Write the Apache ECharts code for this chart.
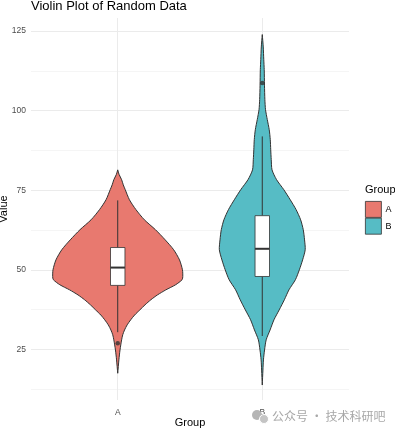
<!DOCTYPE html>
<html>
<head>
<meta charset="utf-8">
<script src="https://cdn.jsdelivr.net/npm/echarts@6/dist/echarts.min.js"></script>
<style>html,body{margin:0;padding:0;background:#fff}#c{width:395px;height:433px}</style>
</head>
<body>
<div id="c"></div>
<script>
// ---- data ----
const categories = ['A', 'B'];
const yTickLabels = [25, 50, 75, 100, 125];
const yMinorTicks = [12.5, 37.5, 62.5, 87.5, 112.5];

// violin outlines: value and relative density (1 = widest violin)
const violinAValues  = [81.4, 80.0, 78.3, 76.7, 75.2, 72.0, 68.9, 65.7, 62.6, 59.4, 56.3, 53.1, 50.0, 47.9, 46.9, 45.3, 43.7, 42.1, 40.6, 39.0, 37.4, 35.8, 34.3, 32.7, 31.1, 29.6, 28.0, 24.8, 21.7, 17.5];
const violinADensity = [0, 0.02, 0.06, 0.085, 0.115, 0.18, 0.28, 0.41, 0.58, 0.73, 0.86, 0.95, 0.995, 1.0, 0.99, 0.89, 0.74, 0.61, 0.51, 0.42, 0.34, 0.26, 0.2, 0.145, 0.105, 0.077, 0.06, 0.035, 0.018, 0];

const violinBValues  = [123.9, 120, 116, 112.9, 108, 103.5, 100.3, 97.2, 94.0, 90.9, 87.7, 84.6, 81.4, 78.3, 75.2, 72.0, 68.9, 65.7, 62.6, 59.4, 56.3, 53.1, 50.0, 46.9, 43.7, 40.6, 37.4, 34.3, 31.1, 28.0, 24.8, 21.7, 18.5, 13.8];
const violinBDensity = [0, 0.015, 0.023, 0.03, 0.034, 0.04, 0.05, 0.077, 0.107, 0.123, 0.13, 0.138, 0.15, 0.22, 0.33, 0.43, 0.52, 0.59, 0.63, 0.65, 0.66, 0.62, 0.57, 0.51, 0.41, 0.34, 0.26, 0.18, 0.12, 0.06, 0.035, 0.018, 0.01, 0];

// box stats: [lower whisker, Q1, median, Q3, upper whisker]
const boxA = [30.4, 45.1, 50.7, 57.0, 71.8];
const boxB = [29.2, 47.9, 56.6, 67.0, 91.9];
const outliersA = [26.9];
const outliersB = [108.7];

// ---- chart ----
const FONT = 'Liberation Sans, Arial, sans-serif';
const VIOLIN_HALF = 0.45;
const BOX_HALF = 0.05;
const colors = ['#E8796F', '#56BCC5'];
const violins = [
  {values: violinAValues, dens: violinADensity},
  {values: violinBValues, dens: violinBDensity}
];
const boxes = [boxA, boxB];

function violinSeries(i) {
  return {
    type: 'custom',
    name: categories[i],
    coordinateSystem: 'cartesian2d',
    xAxisIndex: 0, yAxisIndex: 0,
    itemStyle: {color: colors[i], borderColor: '#333', borderWidth: 0.8},
    data: [[i + 1, boxes[i][2]]],
    z: 2,
    renderItem: function (params, api) {
      const pos = i + 1;
      const v = violins[i];
      const right = [], left = [];
      for (let k = 0; k < v.values.length; k++) {
        right.push(api.coord([pos + v.dens[k] * VIOLIN_HALF, v.values[k]]));
        left.push(api.coord([pos - v.dens[k] * VIOLIN_HALF, v.values[k]]));
      }
      const pts = right.concat(left.reverse());
      return {
        type: 'polygon',
        shape: {points: pts, smooth: 0.25},
        style: {fill: colors[i], stroke: '#333', lineWidth: 1}
      };
    }
  };
}

function boxSeries(i) {
  return {
    type: 'custom',
    name: 'box' + categories[i],
    coordinateSystem: 'cartesian2d',
    data: [[i + 1, boxes[i][2]]],
    z: 3,
    silent: true,
    renderItem: function (params, api) {
      const pos = i + 1;
      const b = boxes[i];
      const tl = api.coord([pos - BOX_HALF, b[3]]);
      const br = api.coord([pos + BOX_HALF, b[1]]);
      const ml = api.coord([pos - BOX_HALF, b[2]]);
      const mr = api.coord([pos + BOX_HALF, b[2]]);
      const wTop = api.coord([pos, b[4]]);
      const q3 = api.coord([pos, b[3]]);
      const q1 = api.coord([pos, b[1]]);
      const wBot = api.coord([pos, b[0]]);
      return {
        type: 'group',
        children: [
          {type: 'line', shape: {x1: wTop[0], y1: wTop[1], x2: q3[0], y2: q3[1]}, style: {stroke: '#333', lineWidth: 1}},
          {type: 'line', shape: {x1: q1[0], y1: q1[1], x2: wBot[0], y2: wBot[1]}, style: {stroke: '#333', lineWidth: 1}},
          {type: 'rect', shape: {x: tl[0], y: tl[1], width: br[0] - tl[0], height: br[1] - tl[1]}, style: {fill: '#fff', stroke: '#333', lineWidth: 0.8}},
          {type: 'line', shape: {x1: ml[0], y1: ml[1], x2: mr[0], y2: mr[1]}, style: {stroke: '#333', lineWidth: 2}}
        ]
      };
    }
  };
}

const option = {
  animation: false,
  backgroundColor: '#fff',
  textStyle: {fontFamily: FONT},
  title: [
    {text: 'Violin Plot of Random Data', left: 31, top: 0, padding: 0,
     textStyle: {fontSize: 13, fontWeight: 'normal', color: '#000', fontFamily: FONT}},
    {text: 'Group', left: 365, top: 184, padding: 0,
     textStyle: {fontSize: 11, fontWeight: 'normal', color: '#000', fontFamily: FONT}}
  ],
  legend: {
    data: categories,
    orient: 'vertical',
    left: 365, top: 201,
    itemWidth: 16, itemHeight: 16, itemGap: 0,
    padding: 0,
    icon: 'rect',
    itemStyle: {borderColor: '#333', borderWidth: 0.8},
    textStyle: {fontSize: 9, color: '#000', fontFamily: FONT, padding: [0, 0, 0, -1]}
  },
  grid: {left: 31, right: 46, top: 18, bottom: 33, containLabel: false, outerBoundsMode: 'none'},
  xAxis: {
    type: 'value', min: 0.4, max: 2.6,
    name: 'Group', nameLocation: 'middle', nameGap: 17, nameMoveOverlap: false,
    nameTextStyle: {fontSize: 11, color: '#000', fontFamily: FONT},
    axisLine: {show: false},
    axisTick: {show: false, customValues: [1, 2]},
    axisLabel: {customValues: [1, 2], fontSize: 8.5, color: '#4D4D4D', margin: 8,
      formatter: function (v) { return categories[Math.round(v) - 1]; }},
    splitLine: {show: true, lineStyle: {color: '#EBEBEB', width: 1}}
  },
  yAxis: [
    {
      type: 'value', min: 9.1, max: 129.1,
      name: 'Value', nameLocation: 'middle', nameGap: 22, nameRotate: 90, nameMoveOverlap: false,
      nameTextStyle: {fontSize: 11, color: '#000', fontFamily: FONT},
      axisLine: {show: false},
      axisTick: {show: false, customValues: yTickLabels},
      axisLabel: {customValues: yTickLabels, fontSize: 8.5, color: '#4D4D4D', margin: 5},
      splitLine: {show: true, lineStyle: {color: '#EBEBEB', width: 1}}
    },
    {
      type: 'value', min: 9.1, max: 129.1, position: 'left',
      axisLine: {show: false},
      axisTick: {show: false, customValues: yMinorTicks},
      axisLabel: {show: false, customValues: yMinorTicks},
      splitLine: {show: true, lineStyle: {color: '#F2F2F2', width: 0.8}}
    }
  ],
  series: [
    violinSeries(0), violinSeries(1),
    boxSeries(0), boxSeries(1),
    {
      type: 'scatter', name: 'outliers', z: 4, silent: true,
      symbolSize: 4.5, itemStyle: {color: '#333'},
      data: outliersA.map(v => [1, v]).concat(outliersB.map(v => [2, v]))
    }
  ],
  graphic: [
    {type: 'circle', left: 252, top: 410, shape: {r: 5}, style: {fill: '#b5b5b5'}, z: 100},
    {type: 'circle', left: 259, top: 414, shape: {r: 4.5}, style: {fill: '#c4c4c4', stroke: '#fff', lineWidth: 1}, z: 101},
    {type: 'text', left: 272, top: 410, z: 100,
     style: {text: '公众号 · 技术科研吧', fill: '#a8a8a8', font: '12px "Noto Sans CJK SC", sans-serif'}}
  ]
};

const chart = echarts.init(document.getElementById('c'), null, {renderer: 'canvas'});
chart.setOption(option);
</script>
</body>
</html>
